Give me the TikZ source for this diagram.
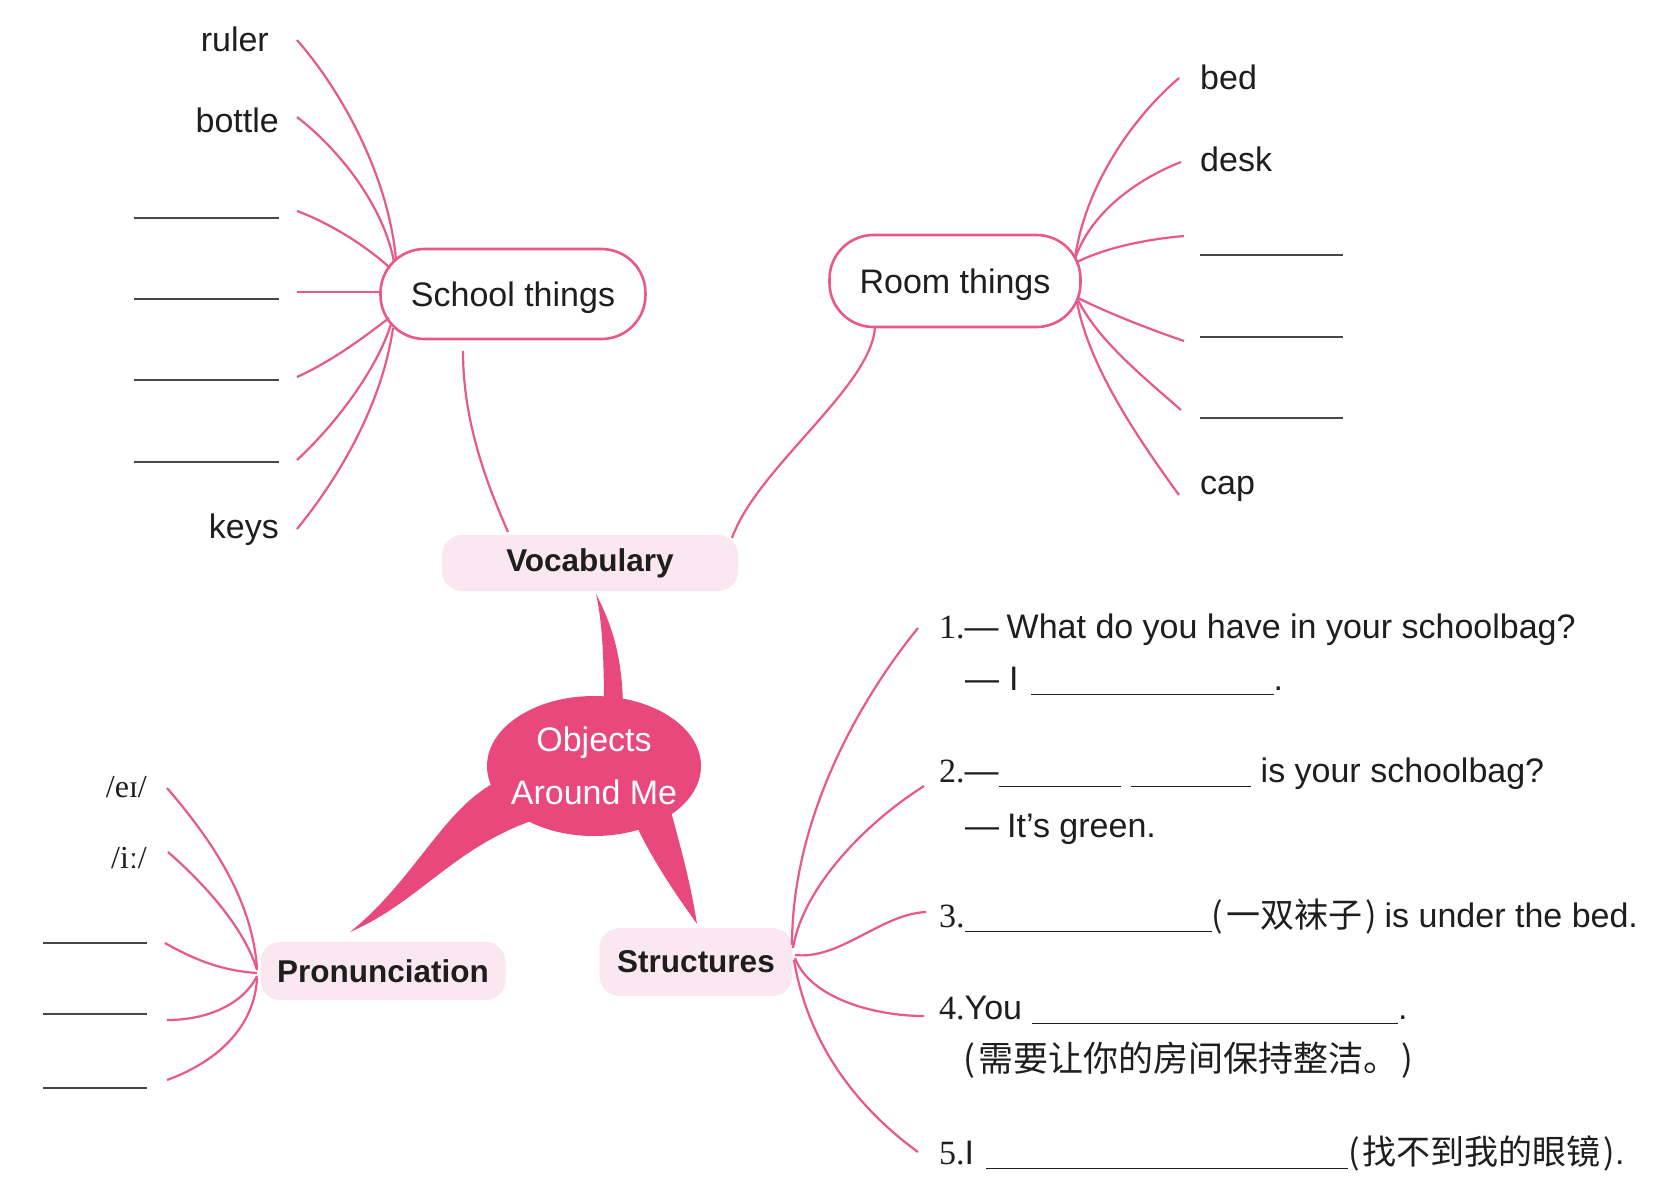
\documentclass[tikz,border=0pt]{standalone}
\usepackage{fontspec}
\setmainfont{Liberation Sans}
\newfontfamily\cjk{Noto Sans CJK SC}
\newfontfamily\serifnum{Liberation Serif}
\usetikzlibrary{shapes.geometric}
\definecolor{pinkline}{RGB}{232,88,140}
\definecolor{pinkfill}{RGB}{233,72,124}
\definecolor{palebox}{RGB}{251,231,240}
\definecolor{inkc}{RGB}{30,30,30}
\definecolor{blankc}{RGB}{70,70,70}
\newcommand{\blk}[1]{\rule[-5pt]{#1}{1.4pt}}
\begin{document}
\begin{tikzpicture}[x=1pt,y=-1pt,
  branch/.style={pinkline, line width=2.2pt},
  blank/.style={blankc, line width=1.6pt},
  topicbox/.style={draw=pinkline, line width=2.6pt, fill=white, rounded corners=44pt, text=inkc, text depth=0pt, font=\fontsize{34}{40}\selectfont},
  catbox/.style={fill=palebox, rounded corners=20pt, text=inkc, font=\bfseries\fontsize{31.5}{38}\selectfont},
  lbl/.style={text=inkc, font=\fontsize{34}{40}\selectfont, inner sep=0pt},
  ipa/.style={text=inkc, font=\serifnum\fontsize{32}{38}\selectfont, inner sep=0pt, anchor=base east},
  qtext/.style={text=inkc, font=\fontsize{34}{40}\selectfont, inner sep=0pt, anchor=base west},
  coretext/.style={text=white, align=center, font=\fontsize{34}{53}\selectfont, inner sep=0pt},
  tail/.style={fill=pinkfill}
]
\useasboundingbox (0,0) rectangle (1669,1192);
\fill[white] (0,0) rectangle (1669,1192);

% ---------- tails of the central bubble ----------
\fill[tail] (596,594) .. controls (615,630) and (623,665) .. (623,712) -- (604,712) .. controls (604,665) and (603,625) .. (596,594) -- cycle;
\fill[tail] (500,780) .. controls (445,805) and (415,880) .. (350,932) .. controls (420,902) and (455,845) .. (540,818) -- cycle;
\fill[tail] (636,825) .. controls (655,865) and (680,900) .. (697,924) .. controls (690,880) and (680,845) .. (670,808) -- cycle;
\node[ellipse, fill=pinkfill, minimum width=214pt, minimum height=140pt, inner sep=0pt] (core) at (594,766) {};
\node[coretext] (coretxt) at (core.center) {Objects\\Around Me};

% ---------- main nodes ----------
\node[topicbox, minimum width=265pt, minimum height=90pt] (st) at (513,294) {School things};
\node[topicbox, minimum width=251pt, minimum height=92pt] (rm) at (955,281) {Room things};
\node[catbox, minimum width=296pt, minimum height=56pt] (voc) at (590,563) {Vocabulary};
\node[catbox, minimum width=245pt, minimum height=58pt] (pro) at (383,971) {Pronunciation};
\node[catbox, minimum width=193pt, minimum height=68pt] (stc) at (696,962) {Structures};

% ---------- attach points ----------
\coordinate (st-top) at (463,351);
\coordinate (voc-l) at (508,532);
\coordinate (voc-r) at (732,538);
\coordinate (rm-bot) at (875,328);

\draw[branch] (st-top) .. controls +(0,70) and +(-22,-50) .. (voc-l);
\draw[branch] (voc-r) .. controls +(25,-70) and +(-5,60) .. (rm-bot);

% ---------- School things branches ----------
\node[lbl, anchor=base east] (ruler) at (269,51) {ruler};
\node[lbl, anchor=base east] (bottle) at (279,132) {bottle};
\node[lbl, anchor=base east] (keys) at (279,538) {keys};
\draw[blank] (134,218) -- (279,218);
\draw[blank] (134,299) -- (279,299);
\draw[blank] (134,380) -- (279,380);
\draw[blank] (134,462) -- (279,462);
\coordinate (s1) at (297,40);
\coordinate (s2) at (297,117);
\coordinate (s3) at (297,211);
\coordinate (s4) at (297,292);
\coordinate (s5) at (297,377);
\coordinate (s6) at (297,460);
\coordinate (s7) at (297,529);
\draw[branch] (s1) .. controls +(48,55) and +(-7,-80) .. (396,260);
\draw[branch] (s2) .. controls +(43,33) and +(-10,-55) .. (394,262);
\draw[branch] (s3) .. controls +(38,14) and +(-18,-17) .. (390,268);
\draw[branch] (s4) -- (382,292);
\draw[branch] (s5) .. controls +(38,-17) and +(-17,13) .. (389,318);
\draw[branch] (s6) .. controls +(43,-40) and +(-13,42) .. (391,324);
\draw[branch] (s7) .. controls +(48,-59) and +(-10,70) .. (393,328);

% ---------- Room things branches ----------
\node[lbl, anchor=base west] (bed) at (1200,89) {bed};
\node[lbl, anchor=base west] (desk) at (1200,171) {desk};
\node[lbl, anchor=base west] (cap) at (1200,494) {cap};
\draw[blank] (1200,255) -- (1343,255);
\draw[blank] (1200,337) -- (1343,337);
\draw[blank] (1200,418) -- (1343,418);
\coordinate (r1) at (1179,78);
\coordinate (r2) at (1181,162);
\coordinate (r3) at (1184,236);
\coordinate (r4) at (1184,341);
\coordinate (r5) at (1181,410);
\coordinate (r6) at (1179,495);
\draw[branch] (1075,258) .. controls +(10,-70) and +(-49,42) .. (r1);
\draw[branch] (1075,259) .. controls +(15,-45) and +(-46,18) .. (r2);
\draw[branch] (1077,262) .. controls +(30,-15) and +(-35,3) .. (r3);
\draw[branch] (1078,298) .. controls +(30,15) and +(-35,-12) .. (r4);
\draw[branch] (1078,300) .. controls +(20,40) and +(-40,-35) .. (r5);
\draw[branch] (1077,302) .. controls +(12,65) and +(-40,-55) .. (r6);

% ---------- Pronunciation branches ----------
\node[ipa] (ei) at (147,797) {/eɪ/};
\node[ipa] (ii) at (147,868) {/iː/};
\draw[blank] (43,943) -- (147,943);
\draw[blank] (43,1014) -- (147,1014);
\draw[blank] (43,1088) -- (147,1088);
\coordinate (p1) at (167,788);
\coordinate (p2) at (168,852);
\coordinate (p3) at (165,943);
\coordinate (p4) at (167,1020);
\coordinate (p5) at (167,1080);
\draw[branch] (p1) .. controls +(43,50) and +(-5,-70) .. (257,968);
\draw[branch] (p2) .. controls +(40,35) and +(-12,-40) .. (257,970);
\draw[branch] (p3) .. controls +(35,20) and +(-30,-2) .. (257,973);
\draw[branch] (p4) .. controls +(45,0) and +(-12,25) .. (257,976);
\draw[branch] (p5) .. controls +(55,-20) and +(-2,45) .. (257,978);

% ---------- Structures branches ----------
\node[qtext] (q1) at (939,638) {{\serifnum 1.}—\hspace{8pt}What do you have in your schoolbag?};
\node[qtext] (q1b) at (965,690) {—\hspace{10pt}I\hspace{12pt}\blk{243pt}.};
\node[qtext] (q2) at (939,782) {{\serifnum 2.}—\blk{122pt}\hspace{10pt}\blk{120pt}\hspace{10pt}is your schoolbag?};
\node[qtext] (q2b) at (965,837) {—\hspace{8pt}It’s green.};
\node[qtext] (q3) at (939,927) {{\serifnum 3.}\blk{247pt}{\cjk\fontsize{34}{38}\selectfont (\hspace{3pt}一双袜子\hspace{3pt})}\hspace{8pt}is under the bed.};
\node[qtext] (q4) at (939,1019) {{\serifnum 4.}You\hspace{10pt}\blk{366pt}.};
\node[qtext] (q4b) at (963,1071) {\cjk\fontsize{35}{40}\selectfont (\hspace{3pt}需要让你的房间保持整洁。\hspace{3pt})};
\node[qtext] (q5) at (939,1164) {{\serifnum 5.}I\hspace{12pt}\blk{362pt}{\cjk\fontsize{34}{38}\selectfont (\hspace{3pt}找不到我的眼镜\hspace{3pt})}.};
\coordinate (t1) at (918,628);
\coordinate (t2) at (924,786);
\coordinate (t3) at (926,912);
\coordinate (t4) at (924,1016);
\coordinate (t5) at (918,1152);
\draw[branch] (792,945) .. controls +(0,-120) and +(-65,80) .. (t1);
\draw[branch] (793,948) .. controls +(10,-60) and +(-60,38) .. (t2);
\draw[branch] (795,955) .. controls +(45,5) and +(-45,2) .. (t3);
\draw[branch] (795,958) .. controls +(15,40) and +(-50,0) .. (t4);
\draw[branch] (794,960) .. controls +(15,90) and +(-55,-40) .. (t5);
\end{tikzpicture}
\end{document}
